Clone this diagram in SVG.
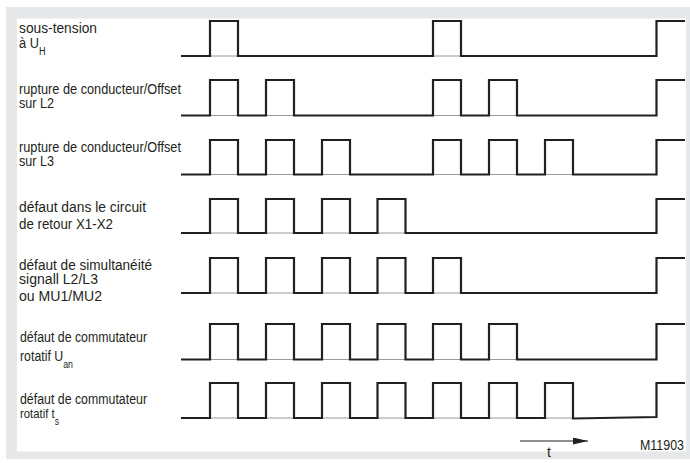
<svg xmlns="http://www.w3.org/2000/svg" width="690" height="463" viewBox="0 0 690 463">
<style>
.lbl{font-family:"Liberation Sans",Arial,sans-serif;font-size:14px;fill:#231f20}
.sm{font-size:13px}
.sub{font-size:10px}
.wave{fill:none;stroke:#231f20;stroke-width:2.2;stroke-linejoin:miter;stroke-linecap:butt}
.base{fill:none;stroke:#9a9a9a;stroke-width:1}
</style>
<defs>
<marker id="arr" markerWidth="15" markerHeight="7" refX="15" refY="3.5" orient="auto" markerUnits="userSpaceOnUse">
<path d="M0,0 L15,3.5 L0,7 Z" fill="#231f20"/>
</marker>
</defs>
<rect x="6" y="7" width="684" height="452" fill="#e6e7e8"/>
<rect x="17" y="18.5" width="669" height="433" fill="#ffffff"/>

<g id="row1">
<text class="lbl" x="19" y="32.5" textLength="78" lengthAdjust="spacingAndGlyphs">sous-tension</text>
<text class="lbl" x="19" y="47.5" textLength="26.5" lengthAdjust="spacingAndGlyphs">à U<tspan class="sub" dy="7">H</tspan></text>
<line class="base" x1="210" y1="56" x2="461" y2="56"/>
<polyline class="wave" points="181,56 210,56 210,21 238,21 238,56 433,56 433,21 461,21 461,56 656.5,56 656.5,21 685,21"/>
</g>

<g id="row2">
<text class="lbl" x="19" y="93.5" textLength="162" lengthAdjust="spacingAndGlyphs">rupture de conducteur/Offset</text>
<text class="lbl" x="19" y="107.5" textLength="35" lengthAdjust="spacingAndGlyphs">sur L2</text>
<line class="base" x1="210" y1="115.5" x2="517" y2="115.5"/>
<polyline class="wave" points="181,115.5 210,115.5 210,80 238,80 238,115.5 266,115.5 266,80 294,80 294,115.5 433,115.5 433,80 461,80 461,115.5 489,115.5 489,80 517,80 517,115.5 656.5,115.5 656.5,80 685,80"/>
</g>

<g id="row3">
<text class="lbl" x="19" y="151.5" textLength="162" lengthAdjust="spacingAndGlyphs">rupture de conducteur/Offset</text>
<text class="lbl" x="19" y="166" textLength="35" lengthAdjust="spacingAndGlyphs">sur L3</text>
<line class="base" x1="210" y1="174.5" x2="573" y2="174.5"/>
<polyline class="wave" points="181,174.5 210,174.5 210,140 238,140 238,174.5 266,174.5 266,140 294,140 294,174.5 322,174.5 322,140 350,140 350,174.5 433,174.5 433,140 461,140 461,174.5 489,174.5 489,140 517,140 517,174.5 545,174.5 545,140 573,140 573,174.5 656.5,174.5 656.5,140 685,140"/>
</g>

<g id="row4">
<text class="lbl" x="19" y="211.5" textLength="127" lengthAdjust="spacingAndGlyphs">défaut dans le circuit</text>
<text class="lbl" x="19" y="229" textLength="94" lengthAdjust="spacingAndGlyphs">de retour X1-X2</text>
<line class="base" x1="210" y1="233" x2="405.5" y2="233"/>
<polyline class="wave" points="181,233 210,233 210,199 238,199 238,233 266,233 266,199 294,199 294,233 322,233 322,199 350,199 350,233 377.5,233 377.5,199 405.5,199 405.5,233 656.5,233 656.5,199 685,199"/>
</g>

<g id="row5">
<text class="lbl" x="19" y="270" textLength="133" lengthAdjust="spacingAndGlyphs">défaut de simultanéité</text>
<text class="lbl" x="19" y="284" textLength="79" lengthAdjust="spacingAndGlyphs">signall L2/L3</text>
<text class="lbl" x="19" y="301" textLength="83" lengthAdjust="spacingAndGlyphs">ou MU1/MU2</text>
<line class="base" x1="210" y1="293" x2="461" y2="293"/>
<polyline class="wave" points="181,293 210,293 210,258 238,258 238,293 266,293 266,258 294,258 294,293 322,293 322,258 350,258 350,293 377.5,293 377.5,258 405.5,258 405.5,293 433,293 433,258 461,258 461,293 656.5,293 656.5,258 685,258"/>
</g>

<g id="row6">
<text class="lbl" x="20" y="341.5" textLength="127" lengthAdjust="spacingAndGlyphs">défaut de commutateur</text>
<text class="lbl" x="20" y="361" textLength="53" lengthAdjust="spacingAndGlyphs">rotatif U<tspan class="sub" dy="6.5">an</tspan></text>
<line class="base" x1="210" y1="359.5" x2="517" y2="359.5"/>
<polyline class="wave" points="181,359.5 210,359.5 210,324 238,324 238,359.5 266,359.5 266,324 294,324 294,359.5 322,359.5 322,324 350,324 350,359.5 377.5,359.5 377.5,324 405.5,324 405.5,359.5 433,359.5 433,324 461,324 461,359.5 489,359.5 489,324 517,324 517,359.5 656.5,359.5 656.5,324 685,324"/>
</g>

<g id="row7">
<text class="lbl" x="20" y="404" textLength="127" lengthAdjust="spacingAndGlyphs">défaut de commutateur</text>
<text class="lbl sm" x="20" y="418" textLength="39" lengthAdjust="spacingAndGlyphs">rotatif t<tspan class="sub" dy="6.5">s</tspan></text>
<line class="base" x1="210" y1="418" x2="573" y2="418"/>
<polyline class="wave" points="181,418 210,418 210,383 238,383 238,418 266,418 266,383 294,383 294,418 322,418 322,383 350,383 350,418 377.5,418 377.5,383 405.5,383 405.5,418 433,418 433,383 461,383 461,418 489,418 489,383 517,383 517,418 545,418 545,383 573,383 573,418.5 656.5,417 656.5,383 685,383"/>
</g>

<g id="connectors">
<line x1="520" y1="441" x2="588" y2="441" stroke="#231f20" stroke-width="1.2" marker-end="url(#arr)"/>
</g>

<g id="time-label">
<text class="lbl" x="549" y="457" text-anchor="middle">t</text>
</g>
<g id="ref-code">
<text class="lbl" x="640" y="449.5" textLength="44" lengthAdjust="spacingAndGlyphs">M11903</text>
</g>
</svg>
